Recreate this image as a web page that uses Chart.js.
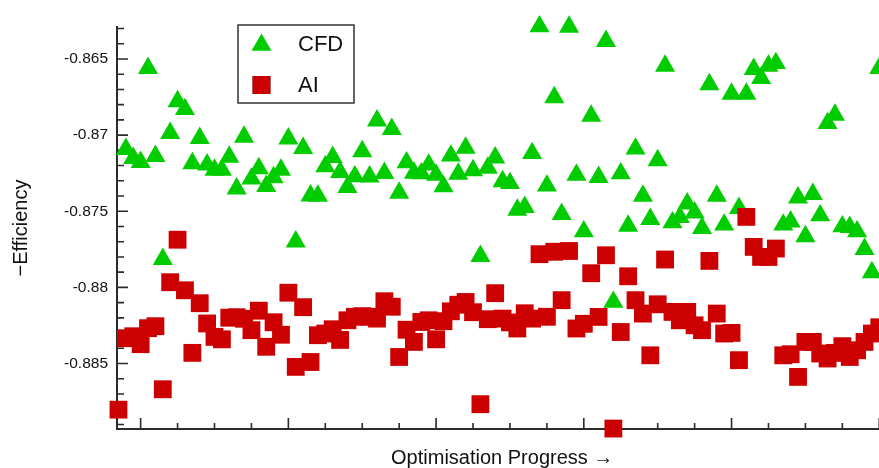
<!DOCTYPE html>
<html>
<head>
<meta charset="utf-8">
<script src="https://cdn.jsdelivr.net/npm/chart.js@4/dist/chart.umd.min.js"></script>
<style>
  html, body { margin: 0; padding: 0; background: #fff; overflow: hidden; }
  #plot { display: block; }
</style>
</head>
<body>
<canvas id="plot" width="900" height="468"></canvas>
<script>
// Iteration number along the optimisation run
const iterations = [
  1, 2, 3, 4, 5, 6, 7, 8, 9, 10, 11, 12, 13, 14, 15, 16, 17, 18, 19, 20,
  21, 22, 23, 24, 25, 26, 27, 28, 29, 30, 31, 32, 33, 34, 35, 36, 37, 38, 39, 40,
  41, 42, 43, 44, 45, 46, 47, 48, 49, 50, 51, 52, 53, 54, 55, 56, 57, 58, 59, 60,
  61, 62, 63, 64, 65, 66, 67, 68, 69, 70, 71, 72, 73, 74, 75, 76, 77, 78, 79, 80,
  81, 82, 83, 84, 85, 86, 87, 88, 89, 90, 91, 92, 93, 94, 95, 96, 97, 98, 99, 100,
  101, 102, 103, 104
];

// Negative efficiency evaluated by CFD
const cfdEfficiency = [
  null, -0.87092, -0.87151, -0.87178, -0.86560, -0.87138, -0.87815, -0.86987, -0.86779, -0.86830,
  -0.87186, -0.87020, -0.87194, -0.87228, -0.87228, -0.87143, -0.87352, -0.87012, -0.87287, -0.87219,
  -0.87335, -0.87278, -0.87228, -0.87023, -0.87700, -0.87086, -0.87398, -0.87399, -0.87206, -0.87145,
  -0.87243, -0.87342, -0.87272, -0.87107, -0.87273, -0.86905, -0.87250, -0.86961, -0.87379, -0.87180,
  -0.87248, -0.87252, -0.87195, -0.87261, -0.87337, -0.87136, -0.87255, -0.87084, -0.87232, -0.87795,
  -0.87215, -0.87148, -0.87304, -0.87316, -0.87491, -0.87473, -0.87119, -0.86287, -0.87333, -0.86752,
  -0.87519, -0.86289, -0.87261, -0.87633, -0.86874, -0.87276, -0.86383, -0.88096, -0.87252, -0.87596,
  -0.87090, -0.87399, -0.87552, -0.87166, -0.86545, -0.87574, -0.87539, -0.87450, -0.87509, -0.87611,
  -0.86667, -0.87399, -0.87589, -0.86729, -0.87480, -0.86729, -0.86567, -0.86626, -0.86545, -0.86528,
  -0.87589, -0.87568, -0.87411, -0.87665, -0.87388, -0.87528, -0.86922, -0.86867, -0.87600, -0.87604,
  -0.87633, -0.87749, -0.87902, -0.86560
];

// Negative efficiency predicted by the AI surrogate
const aiEfficiency = [
  -0.88803, -0.88334, -0.88321, -0.88373, -0.88268, -0.88255, -0.88669, -0.87966, -0.87687, -0.88019,
  -0.88430, -0.88104, -0.88237, -0.88325, -0.88341, -0.88199, -0.88196, -0.88206, -0.88281, -0.88153,
  -0.88390, -0.88229, -0.88311, -0.88035, -0.88522, -0.88130, -0.88490, -0.88314, -0.88303, -0.88275,
  -0.88345, -0.88216, -0.88193, -0.88189, -0.88193, -0.88205, -0.88091, -0.88127, -0.88457, -0.88278,
  -0.88358, -0.88227, -0.88216, -0.88341, -0.88222, -0.88157, -0.88114, -0.88096, -0.88163, -0.88767,
  -0.88209, -0.88038, -0.88205, -0.88230, -0.88270, -0.88170, -0.88205, -0.87782, -0.88193, -0.87766,
  -0.88084, -0.87761, -0.88270, -0.88239, -0.87907, -0.88194, -0.87789, -0.88927, -0.88293, -0.87927,
  -0.88084, -0.88172, -0.88446, -0.88111, -0.87817, -0.88161, -0.88216, -0.88161, -0.88249, -0.88281,
  -0.87826, -0.88172, -0.88303, -0.88299, -0.88478, -0.87537, -0.87734, -0.87800, -0.87800, -0.87745,
  -0.88446, -0.88439, -0.88588, -0.88358, -0.88358, -0.88434, -0.88467, -0.88430, -0.88386, -0.88457,
  -0.88413, -0.88358, -0.88303, -0.88262
];

// Axis ticks
const yTickValues = [-0.885, -0.88, -0.875, -0.87, -0.865];
const yTickLabels = ['-0.885', '-0.88', '-0.875', '-0.87', '-0.865'];
const yMinorTicks = [
  -0.889, -0.888, -0.887, -0.886, -0.884, -0.883, -0.882, -0.881,
  -0.879, -0.878, -0.877, -0.876, -0.874, -0.873, -0.872, -0.871,
  -0.869, -0.868, -0.867, -0.866, -0.864, -0.863
];
const xMajorTicks = [4, 24, 44, 64, 84, 104];
const xMinorTicks = [9, 14, 19, 29, 34, 39, 49, 54, 59, 69, 74, 79, 89, 94, 99];

const FONT = "'Liberation Sans', Arial, Helvetica, sans-serif";
const AXIS_COLOR = '#2b2b2b';
const TEXT_COLOR = '#111';
const GREEN = '#00cc00';
const RED = '#cc0000';

// Inward-pointing tick marks on both axes
const insideTicks = {
  id: 'insideTicks',
  beforeDatasetsDraw(chart) {
    const { ctx, scales: { x, y } } = chart;
    const x0 = x.left;
    const y0 = y.bottom;
    ctx.save();
    ctx.strokeStyle = AXIS_COLOR;
    ctx.lineWidth = 1.6;
    ctx.beginPath();
    const yTick = (v, len) => {
      const py = y.getPixelForValue(v);
      ctx.moveTo(x0, py);
      ctx.lineTo(x0 + len, py);
    };
    const xTick = (v, len) => {
      const px = x.getPixelForValue(v);
      ctx.moveTo(px, y0);
      ctx.lineTo(px, y0 - len);
    };
    yTickValues.forEach(v => yTick(v, 11));
    yMinorTicks.forEach(v => yTick(v, 7));
    xMajorTicks.forEach(v => xTick(v, 11));
    xMinorTicks.forEach(v => xTick(v, 6));
    ctx.stroke();
    ctx.restore();
  }
};

// Boxed legend in the upper left of the plot
const boxLegend = {
  id: 'boxLegend',
  afterDatasetsDraw(chart) {
    const ctx = chart.ctx;
    ctx.save();
    ctx.fillStyle = '#fff';
    ctx.fillRect(238, 25, 116, 78);
    ctx.strokeStyle = '#333';
    ctx.lineWidth = 1.5;
    ctx.strokeRect(238, 25, 116, 78);
    const rows = [
      { ds: chart.data.datasets[0], cy: 45, base: 51 },
      { ds: chart.data.datasets[1], cy: 85, base: 92 }
    ];
    rows.forEach(r => {
      Chart.helpers.drawPoint(ctx, {
        pointStyle: r.ds.pointStyle,
        radius: r.ds.pointRadius,
        rotation: 0,
        borderWidth: 0
      }, 261.5, r.cy);
      ctx.fillStyle = r.ds.backgroundColor;
      ctx.fill();
      ctx.fillStyle = TEXT_COLOR;
      ctx.font = `22px ${FONT}`;
      ctx.textBaseline = 'alphabetic';
      ctx.textAlign = 'left';
      ctx.fillText(r.ds.label, 298, r.base);
    });
    ctx.restore();
  }
};

new Chart(document.getElementById('plot'), {
  type: 'scatter',
  data: {
    datasets: [
      {
        label: 'CFD',
        data: iterations.map((n, i) => ({ x: n, y: cfdEfficiency[i] })),
        pointStyle: 'triangle',
        pointRadius: 11.6,
        backgroundColor: GREEN,
        borderColor: GREEN,
        borderWidth: 0,
        clip: false,
        order: 1
      },
      {
        label: 'AI',
        data: iterations.map((n, i) => ({ x: n, y: aiEfficiency[i] })),
        pointStyle: 'rect',
        pointRadius: 12.6,
        backgroundColor: RED,
        borderColor: RED,
        borderWidth: 0,
        clip: false,
        order: 0
      }
    ]
  },
  options: {
    responsive: false,
    devicePixelRatio: 1,
    animation: false,
    events: [],
    layout: { padding: { top: 27, right: 9, bottom: 0, left: 0 } },
    plugins: { legend: { display: false }, tooltip: { enabled: false } },
    scales: {
      x: {
        type: 'linear',
        min: 0.8,
        max: 105.1,
        grid: { display: false, drawTicks: false },
        border: { display: true, color: AXIS_COLOR, width: 2 },
        ticks: { display: false },
        title: {
          display: true,
          text: 'Optimisation Progress \u2192',
          color: TEXT_COLOR,
          font: { family: FONT, size: 20, lineHeight: 1 },
          padding: { top: 0, bottom: 0 }
        },
        afterFit(scale) { scale.height = 39; }
      },
      y: {
        type: 'linear',
        min: -0.8893,
        max: -0.8629,
        grid: { display: false, drawTicks: false },
        border: { display: true, color: AXIS_COLOR, width: 2 },
        afterBuildTicks(scale) {
          scale.ticks = yTickValues.map(v => ({ value: v }));
        },
        ticks: {
          padding: 9,
          color: TEXT_COLOR,
          font: { family: FONT, size: 15.5 },
          callback: (value, index) => yTickLabels[index]
        },
        title: {
          display: true,
          text: '\u2212Efficiency',
          color: TEXT_COLOR,
          font: { family: FONT, size: 20, lineHeight: 1 },
          padding: { top: 11, bottom: 0 }
        },
        afterFit(scale) { scale.width = 117; }
      }
    }
  },
  plugins: [insideTicks, boxLegend]
});
</script>
</body>
</html>
